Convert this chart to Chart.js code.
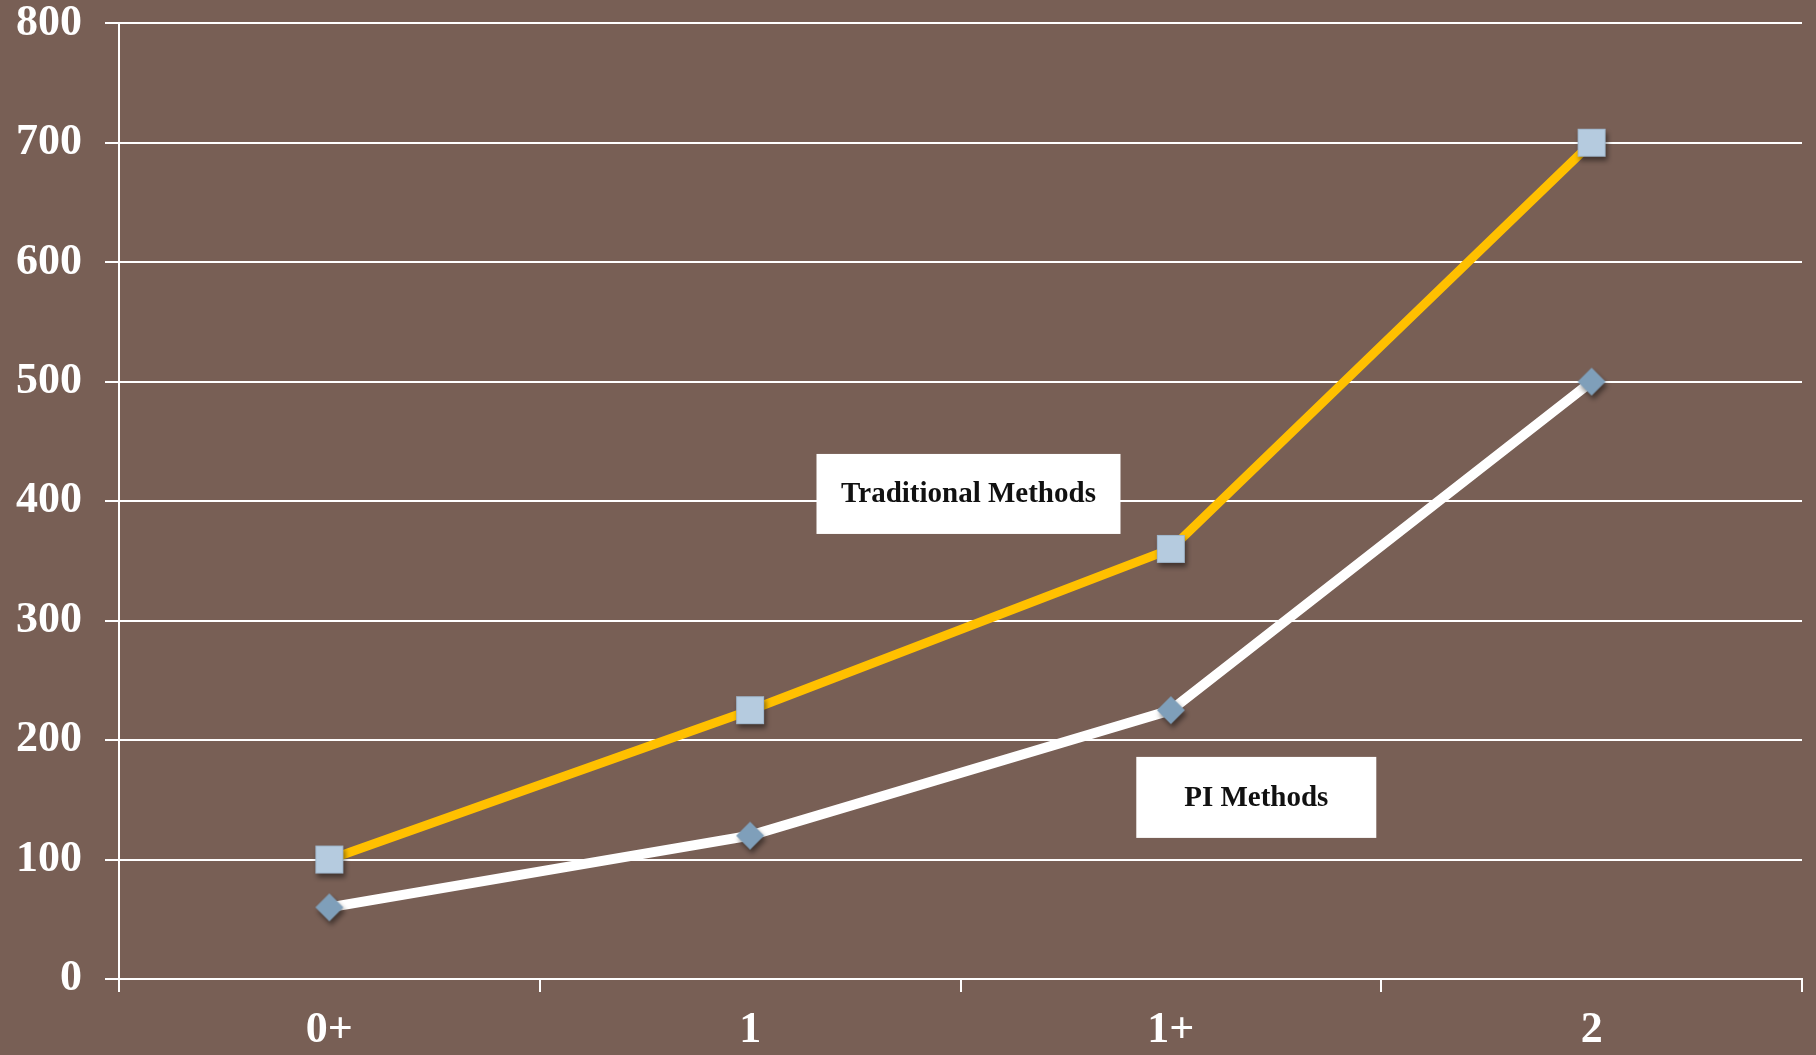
<!DOCTYPE html>
<html>
<head>
<meta charset="utf-8">
<script src="https://cdn.jsdelivr.net/npm/chart.js@4/dist/chart.umd.min.js"></script>
<style>
  html, body { margin: 0; padding: 0; background: #785f55; }
  #wrap { width: 1816px; height: 1055px; }
</style>
</head>
<body>
<div id="wrap"><canvas id="c" width="1816" height="1055"></canvas></div>
<script>
// Categories and series
const categories = ['0+', '1', '1+', '2'];
const traditionalValues = [100, 225, 360, 700];
const piValues = [60, 120, 225, 500];
const yTicks = { min: 0, max: 800, step: 100 };

// Callout labels: text, centre (category index, value), box size
const callouts = [
  { text: 'Traditional Methods', x: 1.519, y: 406, w: 304, h: 80 },
  { text: 'PI Methods', x: 2.203, y: 152, w: 240, h: 81 }
];

const FONT = "'Liberation Serif', 'Times New Roman', serif";

// Marker images with a soft drop shadow
function makeMarker(kind) {
  const s = 60, c = document.createElement('canvas');
  c.width = s; c.height = s;
  const g = c.getContext('2d');
  const r = 14;
  g.save();
  g.shadowColor = 'rgba(0,0,0,0.45)';
  g.shadowBlur = 5;
  g.shadowOffsetX = 2;
  g.shadowOffsetY = 4;
  g.translate(s / 2, s / 2);
  if (kind === 'square') {
    g.fillStyle = '#b5cbdf';
    g.fillRect(-r, -r, 2 * r, 2 * r);
  } else {
    g.fillStyle = '#7f9fba';
    g.beginPath();
    g.moveTo(0, -r); g.lineTo(r, 0); g.lineTo(0, r); g.lineTo(-r, 0);
    g.closePath(); g.fill();
  }
  g.restore();
  g.translate(s / 2, s / 2);
  if (kind === 'square') {
    g.strokeStyle = '#9fb6cb';
    g.lineWidth = 1;
    g.strokeRect(-r + 0.5, -r + 0.5, 2 * r - 1, 2 * r - 1);
  }
  return c;
}
const squareImg = makeMarker('square');
const diamondImg = makeMarker('diamond');

const calloutPlugin = {
  id: 'callouts',
  afterDatasetsDraw(chart) {
    const { ctx, scales } = chart;
    ctx.save();
    ctx.font = 'bold 29px ' + FONT;
    ctx.textAlign = 'center';
    ctx.textBaseline = 'middle';
    callouts.forEach(c => {
      const cx = scales.x.getPixelForValue(c.x);
      const cy = scales.y.getPixelForValue(c.y);
      ctx.fillStyle = '#ffffff';
      ctx.fillRect(cx - c.w / 2, cy - c.h / 2, c.w, c.h);
      ctx.fillStyle = '#111111';
      ctx.fillText(c.text, cx, cy + 1);
    });
    ctx.restore();
  }
};

new Chart(document.getElementById('c'), {
  type: 'line',
  data: {
    labels: categories,
    datasets: [
      {
        label: 'PI Methods',
        data: piValues,
        borderColor: '#ffffff',
        borderWidth: 10,
        pointStyle: diamondImg,
        tension: 0,
        order: 2
      },
      {
        label: 'Traditional Methods',
        data: traditionalValues,
        borderColor: '#ffc000',
        borderWidth: 9,
        pointStyle: squareImg,
        tension: 0,
        order: 1
      }
    ]
  },
  options: {
    responsive: false,
    animation: false,
    layout: { padding: { top: 0, right: 13, left: 0, bottom: 0 } },
    plugins: { legend: { display: false }, tooltip: { enabled: false } },
    scales: {
      x: {
        offset: true,
        grid: { offset: true, drawOnChartArea: false, color: '#ffffff', lineWidth: 2, tickLength: 13 },
        border: { color: '#ffffff', width: 2 },
        ticks: { color: '#ffffff', font: { family: FONT, size: 44, weight: 'bold' }, padding: 12 },
        afterFit(s) { s.height = 76; }
      },
      y: {
        min: yTicks.min,
        max: yTicks.max,
        grid: { color: '#ffffff', lineWidth: 2, tickLength: 14 },
        border: { color: '#ffffff', width: 2 },
        ticks: { stepSize: yTicks.step, color: '#ffffff', font: { family: FONT, size: 44, weight: 'bold', lineHeight: 0.01 }, padding: 23 },
        afterFit(s) { s.width = 119; }
      }
    }
  },
  plugins: [calloutPlugin]
});
</script>
</body>
</html>
